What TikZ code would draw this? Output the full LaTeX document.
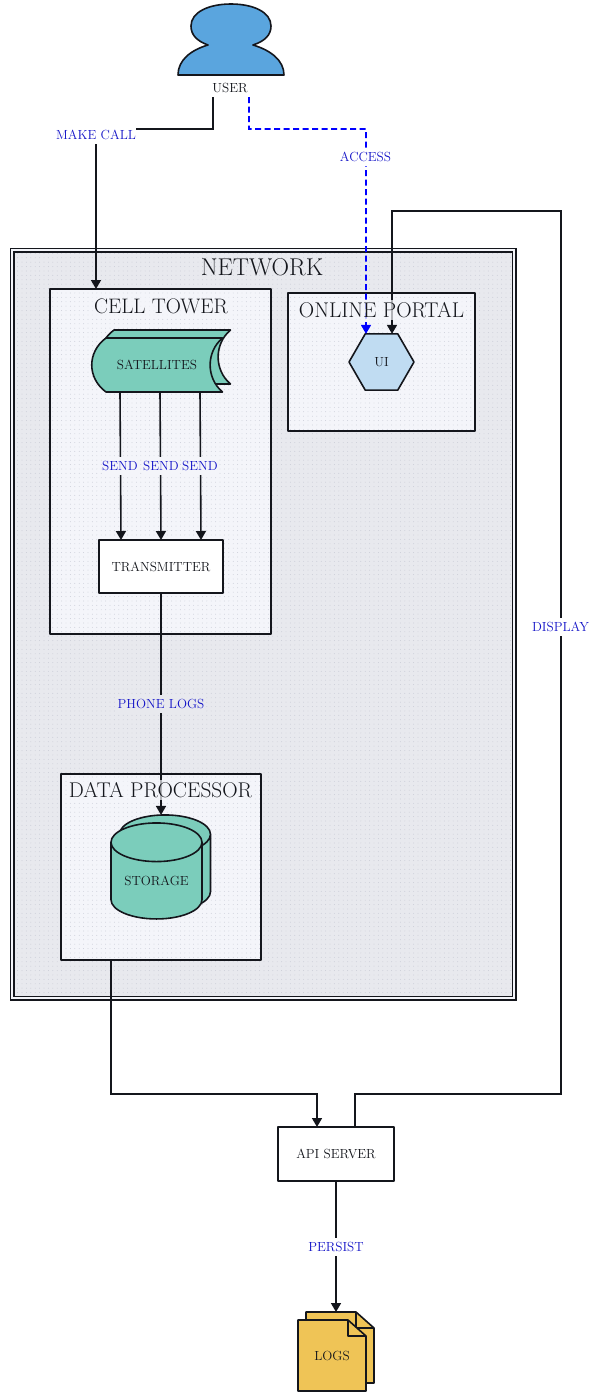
\documentclass[tikz,border=0pt]{standalone}
\usepackage{amsmath}
\usetikzlibrary{positioning}
\usetikzlibrary{arrows.meta}
\usetikzlibrary{patterns}
\usetikzlibrary{shapes.geometric}
\definecolor{netbg}{HTML}{E8E9EE}
\definecolor{groupbg}{HTML}{F4F5FA}
\definecolor{dotcol}{HTML}{C6C9D4}
\definecolor{inkcol}{HTML}{14161C}
\definecolor{labelblue}{HTML}{1515C8}
\definecolor{userfill}{HTML}{5AA5DE}
\definecolor{tealfill}{HTML}{7BCDBB}
\definecolor{uifill}{HTML}{C0DCF2}
\definecolor{docfill}{HTML}{EFC456}
\pgfdeclarepatternformonly{finedots}{\pgfqpoint{-1pt}{-1pt}}{\pgfqpoint{1pt}{1pt}}{\pgfqpoint{4.4pt}{4.4pt}}{\pgfpathcircle{\pgfqpoint{0pt}{0pt}}{.45pt}\pgfusepath{fill}}
\tikzset{>={Stealth[inset=0pt,length=9pt,width=10pt]}}
\tikzset{ed/.style={inner xsep=0pt,inner ysep=0pt,minimum height=18pt,font=\fontsize{13.2}{15}\selectfont,text=labelblue}}
\tikzset{txt/.style={inner sep=0pt,outer sep=0pt,font=\fontsize{13.2}{15}\selectfont,text=inkcol}}
\tikzset{flow/.style={line width=1.6pt,draw=inkcol}}
\tikzset{outline/.style={line width=1.6pt,draw=inkcol,line join=round}}
\tikzset{dotted bg/.style={preaction={fill=#1},pattern=finedots,pattern color=dotcol}}
\tikzset{group/.style={outline,dotted bg=groupbg,inner sep=0pt,outer sep=0pt}}
\tikzset{grouptitle/.style={inner sep=2pt,fill=groupbg,fill opacity=.7,text opacity=1,text=inkcol,font=\fontsize{21.3}{24}\selectfont}}
\tikzset{plainbox/.style={outline,fill=white,inner sep=0pt,outer sep=0pt,font=\fontsize{13.2}{15}\selectfont,text=inkcol}}
\tikzset{drum/.style={cylinder,shape border rotate=90,shape aspect=.6,outline,fill=tealfill,inner sep=0pt,outer sep=0pt,minimum width=91pt,minimum height=96pt,font=\fontsize{13.2}{15}\selectfont,text=inkcol}}
\begin{document}
\begin{tikzpicture}[x=1pt,y=-1pt]
\useasboundingbox (0,0) rectangle (590,1393);

\draw[outline,fill=userfill] (178,75) -- (284,75) .. controls (284,60) and (270,50) .. (253,45) .. controls (265,41) and (271,35) .. (271,26) .. controls (271,12) and (253,4) .. (231,4) .. controls (209,4) and (191,12) .. (191,26) .. controls (191,35) and (197,41) .. (208,45) .. controls (191,50) and (178,60) .. (178,75) -- cycle;
\node[txt,minimum height=18pt] (user) at (230,88) {USER};

\node[draw=inkcol,line width=1.2pt,double=groupbg,double distance=2.6pt,dotted bg=netbg,inner sep=0pt,outer sep=0pt,minimum width=502pt,minimum height=748pt] (network) at (263,624) {};
\node[group,minimum width=221pt,minimum height=345pt] (tower) at (160.5,461.5) {};
\node[group,minimum width=187pt,minimum height=138pt] (portal) at (381.5,362) {};
\node[group,minimum width=200pt,minimum height=186pt] (processor) at (161,867) {};

% satellites
\foreach \s in {8,0} {
\draw[outline,fill=tealfill,shift={(\s,-\s)}] (106,338) -- (222.5,338) .. controls (206,352) and (206,378) .. (222.5,392) -- (106,392) .. controls (87,378) and (87,352) .. (106,338) -- cycle;
}
\node[txt,minimum width=131pt,minimum height=54pt] (satellites) at (157,365) {SATELLITES};
\node[plainbox,minimum width=124pt,minimum height=53pt] (transmitter) at (161,566.5) {TRANSMITTER};
\node[regular polygon,regular polygon sides=6,outline,fill=uifill,inner sep=0pt,outer sep=0pt,minimum size=65pt,font=\fontsize{13.2}{15}\selectfont,text=inkcol] (ui) at (381.5,362) {UI};

\node[drum] (storageback) at (165,873) {\phantom{STORAGE}};
\node[drum] (storage) at (156.5,881) {STORAGE};

\node[plainbox,minimum width=116pt,minimum height=54pt] (api) at (336,1154) {API SERVER};

% logs
\foreach \s in {8,0} {
\draw[outline,fill=docfill,shift={(\s,-\s)}] (298,1320) -- (348,1320) -- (366,1336) -- (366,1391) -- (298,1391) -- cycle;
\draw[outline,shift={(\s,-\s)}] (348,1320) -- (348,1336) -- (366,1336);
}
\node[txt] (logs) at (332,1356) {LOGS};
\coordinate (logstop) at (336,1312);

\coordinate (callbend) at (96,129);
\coordinate (accessbend) at (366,129);
\coordinate (apibend) at (111,1094);
\coordinate (displaylow) at (561,1094);
\coordinate (displayhigh) at (561,211);

\draw[flow,->] ([xshift=-17pt]user.south) |- (callbend) -- (callbend |- tower.north);
\draw[line width=1.6pt,draw=blue,dash pattern=on 6pt off 3.5pt,->] ([xshift=19pt]user.south) |- (accessbend) -- ([xshift=-15.5pt]ui.north);
\draw[flow,->] ([xshift=-37pt]satellites.south) -- ([xshift=-40pt]transmitter.north);
\draw[flow,->] ([xshift=3pt]satellites.south) -- (transmitter.north);
\draw[flow,->] ([xshift=43pt]satellites.south) -- ([xshift=40pt]transmitter.north);
\draw[flow,->] (transmitter.south) -- (transmitter.south |- storageback.north);
\draw[flow,->] (apibend |- processor.south) -- (apibend) -| ([xshift=-19pt]api.north);
\draw[flow,->] ([xshift=19pt]api.north) |- (displaylow) -- (displayhigh) -| ([xshift=10.5pt]ui.north);
\draw[flow,->] (api.south) -- (logstop);

\node[grouptitle,fill=none,font=\fontsize{24.3}{27}\selectfont] (networktitle) at (262,267) {NETWORK};
\node[grouptitle,font=\fontsize{21}{24}\selectfont] (towertitle) at (161,306) {CELL TOWER};
\node[grouptitle] (portaltitle) at (381.5,310) {ONLINE PORTAL};
\node[grouptitle] (processortitle) at (160.5,790) {DATA PROCESSOR};

\node[ed,fill=white] (makecall) at (96,135) {MAKE CALL};
\node[ed,fill=white] (access) at (365.5,157) {ACCESS};
\node[ed,fill=groupbg] (sendleft) at (120,466) {SEND};
\node[ed,fill=groupbg] (sendmid) at (161,466) {SEND};
\node[ed,fill=groupbg] (sendright) at (200,466) {SEND};
\node[ed,fill=netbg] (phonelogs) at (161,704) {PHONE LOGS};
\node[ed,fill=white] (display) at (560.5,627) {DISPLAY};
\node[ed,fill=white] (persist) at (336,1247) {PERSIST};
\end{tikzpicture}
\end{document}
